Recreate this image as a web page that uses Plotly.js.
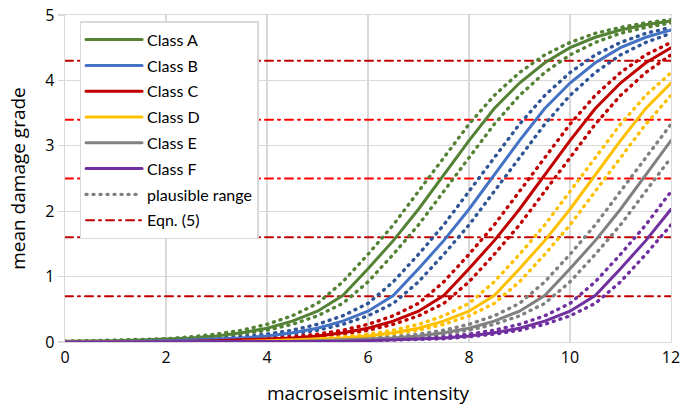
<!DOCTYPE html>
<html>
<head>
<meta charset="utf-8">
<script src="https://cdn.plot.ly/plotly-3.0.1.min.js"></script>
<style>
  html, body { margin: 0; padding: 0; background: #fff; }
  #chart { width: 683px; height: 412px; }
  path.js-line, .legend path { stroke-linecap: round !important; }
</style>
</head>
<body>
<div id="chart"></div>
<script>
// macroseismic intensity sample points
const intensity = [0,0.5,1,1.5,2,2.5,3,3.5,4,4.5,5,5.5,6,6.5,7,7.5,8,8.5,9,9.5,10,10.5,11,11.5,12];

// mean damage grade, central curves
const classA = [0.01,0.01,0.02,0.03,0.04,0.06,0.09,0.14,0.21,0.32,0.47,0.71,1.12,1.55,2.03,2.56,3.08,3.57,3.96,4.27,4.50,4.66,4.77,4.85,4.91];
const classB = [0.00,0.00,0.01,0.01,0.02,0.03,0.04,0.06,0.09,0.14,0.21,0.32,0.47,0.71,1.12,1.55,2.03,2.56,3.08,3.57,3.96,4.27,4.50,4.66,4.77];
const classC = [0.00,0.00,0.00,0.00,0.01,0.01,0.02,0.03,0.04,0.06,0.09,0.14,0.21,0.32,0.47,0.71,1.12,1.55,2.03,2.56,3.08,3.57,3.96,4.27,4.50];
const classD = [0.00,0.00,0.00,0.00,0.00,0.00,0.01,0.01,0.02,0.03,0.04,0.06,0.09,0.14,0.21,0.32,0.47,0.71,1.12,1.55,2.03,2.56,3.08,3.57,3.96];
const classE = [0.00,0.00,0.00,0.00,0.00,0.00,0.00,0.00,0.01,0.01,0.02,0.03,0.04,0.06,0.09,0.14,0.21,0.32,0.47,0.71,1.12,1.55,2.03,2.56,3.08];
const classF = [0.00,0.00,0.00,0.00,0.00,0.00,0.00,0.00,0.00,0.00,0.01,0.01,0.02,0.03,0.04,0.06,0.09,0.14,0.21,0.32,0.47,0.71,1.12,1.55,2.03];

// plausible range, upper bounds
const classAUpper = [0.01,0.02,0.03,0.04,0.05,0.08,0.12,0.18,0.27,0.40,0.59,0.92,1.34,1.79,2.30,2.82,3.33,3.77,4.12,4.39,4.58,4.72,4.81,4.88,4.93];
const classBUpper = [0.00,0.01,0.01,0.02,0.03,0.04,0.05,0.08,0.12,0.18,0.27,0.40,0.59,0.92,1.34,1.79,2.30,2.82,3.33,3.77,4.12,4.39,4.58,4.72,4.81];
const classCUpper = [0.00,0.00,0.00,0.01,0.01,0.02,0.03,0.04,0.05,0.08,0.12,0.18,0.27,0.40,0.59,0.92,1.34,1.79,2.30,2.82,3.33,3.77,4.12,4.39,4.58];
const classDUpper = [0.00,0.00,0.00,0.00,0.00,0.01,0.01,0.02,0.03,0.04,0.05,0.08,0.12,0.18,0.27,0.40,0.59,0.92,1.34,1.79,2.30,2.82,3.33,3.77,4.12];
const classEUpper = [0.00,0.00,0.00,0.00,0.00,0.00,0.00,0.01,0.01,0.02,0.03,0.04,0.05,0.08,0.12,0.18,0.27,0.40,0.59,0.92,1.34,1.79,2.30,2.82,3.33];
const classFUpper = [0.00,0.00,0.00,0.00,0.00,0.00,0.00,0.00,0.00,0.01,0.01,0.02,0.03,0.04,0.05,0.08,0.12,0.18,0.27,0.40,0.59,0.92,1.34,1.79,2.30];

// plausible range, lower bounds
const classALower = [0.01,0.01,0.02,0.03,0.04,0.05,0.08,0.12,0.18,0.27,0.40,0.59,0.92,1.34,1.79,2.30,2.82,3.33,3.77,4.12,4.39,4.58,4.72,4.81,4.88];
const classBLower = [0.00,0.00,0.01,0.01,0.02,0.03,0.04,0.05,0.08,0.12,0.18,0.27,0.40,0.59,0.92,1.34,1.79,2.30,2.82,3.33,3.77,4.12,4.39,4.58,4.72];
const classCLower = [0.00,0.00,0.00,0.00,0.01,0.01,0.02,0.03,0.04,0.05,0.08,0.12,0.18,0.27,0.40,0.59,0.92,1.34,1.79,2.30,2.82,3.33,3.77,4.12,4.39];
const classDLower = [0.00,0.00,0.00,0.00,0.00,0.00,0.01,0.01,0.02,0.03,0.04,0.05,0.08,0.12,0.18,0.27,0.40,0.59,0.92,1.34,1.79,2.30,2.82,3.33,3.77];
const classELower = [0.00,0.00,0.00,0.00,0.00,0.00,0.00,0.00,0.01,0.01,0.02,0.03,0.04,0.05,0.08,0.12,0.18,0.27,0.40,0.59,0.92,1.34,1.79,2.30,2.82];
const classFLower = [0.00,0.00,0.00,0.00,0.00,0.00,0.00,0.00,0.00,0.00,0.01,0.01,0.02,0.03,0.04,0.05,0.08,0.12,0.18,0.27,0.40,0.59,0.92,1.34,1.79];

// Eqn. (5) threshold levels
const eqnLevels = [0.7, 1.6, 2.5, 3.4, 4.3];
const eqnColors = ['#C00000', '#C00000', '#FF0000', '#FF0000', '#C00000'];
const eqnSpan = [0, 12];

const classNames = ['Class A','Class B','Class C','Class D','Class E','Class F'];
const classColors = ['#548235','#4472C4','#C00000','#FFC000','#808080','#7030A0'];
const dotColors  = ['#548235','#2F5597','#C00000','#FFC000','#808080','#7030A0'];
const central = [classA, classB, classC, classD, classE, classF];
const upper = [classAUpper, classBUpper, classCUpper, classDUpper, classEUpper, classFUpper];
const lower = [classALower, classBLower, classCLower, classDLower, classELower, classFLower];

const DOT = '1px,6px';
const DASHDOT = '8px,5px,2px,5px';

const traces = [];
// Eqn (5) lines
eqnLevels.forEach((lv, i) => {
  traces.push({
    x: eqnSpan, y: [lv, lv], mode: 'lines', type: 'scatter',
    name: 'Eqn. (5)', legendgroup: 'g8', showlegend: i === 0, legendrank: 8,
    line: {color: eqnColors[i], width: 2, dash: DASHDOT},
    hoverinfo: 'skip'
  });
});
// plausible ranges
for (let k = 0; k < 6; k++) {
  [upper[k], lower[k]].forEach(arr => {
    traces.push({
      x: intensity, y: arr, mode: 'lines', type: 'scatter',
      showlegend: false, legendgroup: 'p' + k,
      line: {color: dotColors[k], width: 3.4, dash: DOT}
    });
  });
}
// central curves
for (let k = 0; k < 6; k++) {
  traces.push({
    x: intensity, y: central[k], mode: 'lines', type: 'scatter',
    name: classNames[k], legendgroup: 'g' + (k + 1), legendrank: k + 1,
    line: {color: classColors[k], width: 3}
  });
}
// legend entry for plausible range
traces.push({
  x: [null], y: [null], mode: 'lines', type: 'scatter',
  name: 'plausible range', legendgroup: 'g7', legendrank: 7,
  line: {color: '#808080', width: 3.4, dash: DOT}
});

const legFont = 'Lato, "Open Sans", sans-serif';
const axFont = '"Open Sans", Lato, sans-serif';
const layout = {
  width: 683, height: 412,
  margin: {l: 65, r: 12, t: 15, b: 70},
  paper_bgcolor: '#fff', plot_bgcolor: '#fff',
  font: {family: axFont, size: 16, color: '#000'},
  showlegend: true,
  legend: {
    x: 0.024, y: 0.981, xanchor: 'left', yanchor: 'top',
    bgcolor: '#fff', bordercolor: '#D9D9D9', borderwidth: 1.5,
    font: {family: legFont, size: 16, color: '#000'},
    itemwidth: 56, traceorder: 'grouped', tracegroupgap: 2
  },
  xaxis: {
    range: [0, 12], dtick: 2, tick0: 0,
    showgrid: true, gridcolor: '#D9D9D9', gridwidth: 1.3,
    zeroline: false, showline: true, linecolor: '#D9D9D9', linewidth: 1.3, mirror: true,
    ticks: '', tickfont: {family: axFont, size: 16, color: '#000'},
    title: {text: 'macroseismic intensity', font: {family: axFont, size: 19, color: '#000'}, standoff: 20}
  },
  yaxis: {
    range: [0, 5], dtick: 1, tick0: 0,
    showgrid: true, gridcolor: '#D9D9D9', gridwidth: 1.3,
    zeroline: false, showline: true, linecolor: '#D9D9D9', linewidth: 1.3, mirror: true,
    ticks: 'outside', ticklen: 6, tickcolor: '#D9D9D9', tickwidth: 1.3,
    tickfont: {family: axFont, size: 16, color: '#000'},
    title: {text: 'mean damage grade', font: {family: axFont, size: 19, color: '#000'}, standoff: 14}
  }
};

Plotly.newPlot('chart', traces, layout, {staticPlot: true, displayModeBar: false});
</script>
</body>
</html>
